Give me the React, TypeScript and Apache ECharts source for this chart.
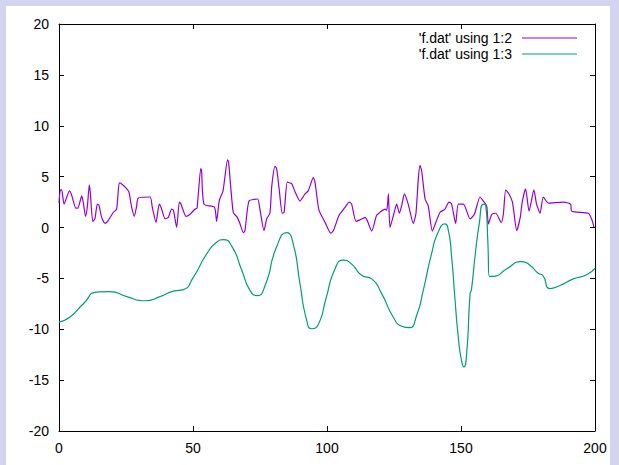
import React, { useEffect, useRef } from "react";
import * as echarts from "echarts";

const xTicks = [0, 50, 100, 150, 200];
const yTicks = [-20, -15, -10, -5, 0, 5, 10, 15, 20];

const series1Name = "'f.dat' using 1:2";
const series2Name = "'f.dat' using 1:3";

const purpleX = [0, 0.5, 1, 1.9, 3.9, 4.7, 6.3, 7, 8.5, 9.1, 9.9, 10.6, 11.3, 11.7, 12.6, 13.4, 14.3, 14.9, 15.9, 17.2, 18.4, 20.3, 21.5, 22.5, 23.3, 25.3, 26.1, 27.1, 28.1, 28.9, 29.6, 34, 34.8, 36.2, 37.4, 38.2, 39.6, 40.8, 42, 42.7, 43.9, 44.9, 45.5, 47.4, 48.9, 50.7, 51.5, 52.9, 53.2, 54.1, 58, 58.8, 59.8, 61.2, 62.9, 63.3, 65, 66.5, 67.5, 68.8, 69.4, 70.9, 74.1, 74.9, 76.5, 77.5, 78.7, 79.4, 80.6, 81.2, 82.1, 83.3, 84, 85.2, 86.8, 88.1, 89.9, 91.8, 93, 94.9, 95.5, 97, 99.3, 101.4, 102.4, 104.5, 106.5, 108.3, 109.2, 110.8, 112.3, 114.2, 115, 116.7, 118.5, 119.8, 121.6, 122.3, 122.9, 123.5, 125, 126, 127, 127.9, 128.9, 130.3, 132.2, 133.2, 134.1, 134.7, 135.3, 136.6, 137.8, 139.3, 140.9, 142.2, 144, 145.5, 146.5, 148, 149, 150.9, 153.4, 155, 157.1, 158.3, 159.6, 160.2, 161.5, 163, 165, 165.8, 166.7, 167.9, 169.2, 170.8, 172.1, 172.9, 174.1, 175.4, 177.2, 178.2, 179.5, 180.7, 182.6, 188.2, 190.9, 191.3, 197.5, 198.7, 199.6];
const purpleY = [2.4, 3.7, 3.7, 2.3, 3.6, 3.2, 1.9, 1.9, 3.1, 2.4, 1.1, 2.1, 4.2, 3.4, 0.6, 0.85, 2.3, 2.2, 1.0, 0.4, 0.7, 1.5, 1.8, 4.4, 4.3, 3.8, 3.5, 2.0, 1.1, 2.0, 2.9, 3.0, 2.0, 0.5, 2.3, 1.9, 0.85, 1.0, 1.8, 1.7, 0.0, 2.5, 2.3, 1.1, 1.3, 1.8, 1.9, 5.8, 5.6, 2.3, 2.0, 0.6, 2.65, 3.6, 6.65, 6.4, 1.5, 1.0, 0.4, -0.5, -0.3, 2.6, 2.8, 1.9, -0.3, 0.85, 1.4, 4.1, 6.0, 5.8, 3.9, 1.4, 1.5, 4.45, 4.3, 3.5, 2.6, 3.3, 3.6, 4.9, 4.5, 1.7, 0.5, -0.55, -0.3, 1.2, 1.9, 2.5, 2.3, 0.6, 0.75, 1.0, 0.7, -0.35, 1.2, 1.5, 1.8, 1.7, 3.3, 0.0, 1.4, 2.3, 1.4, 2.2, 3.3, 2.3, 0.4, 1.4, 4.9, 6.1, 5.6, 2.8, 2.1, -0.35, 0.7, 1.5, 1.8, 2.5, 2.3, 0.4, 2.3, 2.3, 0.85, 1.3, 3.0, 2.6, 2.1, 0.35, 1.3, 1.4, 0.5, 1.3, 3.7, 3.3, 2.5, -0.3, 1.0, 2.6, 3.8, 1.6, 3.7, 2.3, 1.4, 3.0, 2.4, 2.5, 2.3, 1.6, 1.4, 0.85, 0.05];

const greenX = [0, 4.1, 9.1, 14.1, 19, 25.3, 32.1, 37.7, 42.7, 46.4, 50.1, 55.1, 58.8, 61.3, 64.4, 68.2, 71.3, 74, 76.9, 81.2, 85, 87.4, 89.9, 92.4, 94.3, 96.8, 99.6, 103, 106.1, 109.2, 112.9, 116.7, 120.4, 124.7, 127.9, 130.7, 133.5, 135.9, 139, 141.5, 144, 145.3, 146.5, 147.8, 149, 150.2, 151.1, 152.1, 153.4, 153.9, 155.2, 156.8, 158.3, 159.2, 160, 160.6, 162.1, 167.1, 172.6, 175.7, 178.8, 180.5, 183.2, 186.9, 191.9, 196.9, 200];
const greenY = [-9.3, -8.8, -7.5, -6.35, -6.3, -6.8, -7.2, -6.8, -6.25, -6.1, -4.9, -2.6, -1.45, -1.2, -1.8, -4.2, -6.2, -6.7, -5.7, -1.9, -0.5, -1.6, -5.5, -9.1, -9.95, -9.5, -7.0, -4.05, -3.2, -3.6, -4.7, -5.05, -6.5, -8.8, -9.7, -9.85, -8.6, -6.2, -2.6, -0.45, 0.35, -0.3, -2.9, -7.2, -10.8, -13.1, -13.7, -12.4, -6.5, -6.1, -2.9, 0.35, 2.3, 2.2, -1.3, -4.8, -4.8, -4.05, -3.35, -3.7, -4.5, -4.7, -6.0, -5.7, -5.05, -4.65, -4.0];

const FONT = "'Liberation Sans', Arial, sans-serif";

export default function App() {
  const ref = useRef<HTMLDivElement>(null);
  useEffect(() => {
    if (!ref.current) return;
    const chart = echarts.init(ref.current, undefined, { renderer: "svg" });
    const axisCommon = {
      type: "value" as const,
      axisLine: { show: true, onZero: false, lineStyle: { color: "#000", width: 1 } },
      axisTick: { show: true, inside: true, length: 5, lineStyle: { color: "#000" } },
      splitLine: { show: false },
    };
    chart.setOption({
      animation: false,
      backgroundColor: "#ffffff",
      grid: { left: 53, right: 15, top: 18, bottom: 34, containLabel: false },
      legend: {
        right: 33,
        top: 25,
        padding: 0,
        orient: "vertical",
        align: "right",
        itemWidth: 55,
        itemHeight: 12,
        itemGap: 2,
        icon: "path://M0,5 L55,5 L55,6 L0,6 Z",
        textStyle: { fontFamily: FONT, fontSize: 14, color: "#000", padding: [0, 5, 0, 0] },
        data: [series1Name, series2Name],
      },
      xAxis: [
        {
          ...axisCommon,
          position: "bottom",
          min: xTicks[0],
          max: xTicks[xTicks.length - 1],
          interval: 50,
          axisLabel: { margin: 10, fontFamily: FONT, fontSize: 14, color: "#000" },
        },
        {
          ...axisCommon,
          position: "top",
          min: xTicks[0],
          max: xTicks[xTicks.length - 1],
          interval: 50,
          axisLabel: { show: false },
        },
      ],
      yAxis: [
        {
          ...axisCommon,
          position: "left",
          min: yTicks[0],
          max: yTicks[yTicks.length - 1],
          interval: 5,
          axisLabel: { margin: 10, fontFamily: FONT, fontSize: 14, color: "#000" },
        },
        {
          ...axisCommon,
          position: "right",
          min: yTicks[0],
          max: yTicks[yTicks.length - 1],
          interval: 5,
          axisLabel: { show: false },
        },
      ],
      series: [
        {
          name: series1Name,
          type: "line",
          data: purpleX.map((x, i) => [x, purpleY[i]]),
          symbol: "none",
          smooth: 0.2,
          lineStyle: { color: "#9400d3", width: 1.2 },
          itemStyle: { color: "#9400d3" },
        },
        {
          name: series2Name,
          type: "line",
          data: greenX.map((x, i) => [x, greenY[i]]),
          symbol: "none",
          smooth: 0.6,
          lineStyle: { color: "#009e73", width: 1.2 },
          itemStyle: { color: "#009e73" },
        },
      ],
    });
    return () => chart.dispose();
  }, []);
  return (
    <div style={{ position: "fixed", left: 0, top: 0, width: 619, height: 465, background: "#d4d4f0" }}>
      <div ref={ref} style={{ position: "absolute", left: 6, top: 6, width: 604, height: 459, background: "#fff" }} />
    </div>
  );
}
